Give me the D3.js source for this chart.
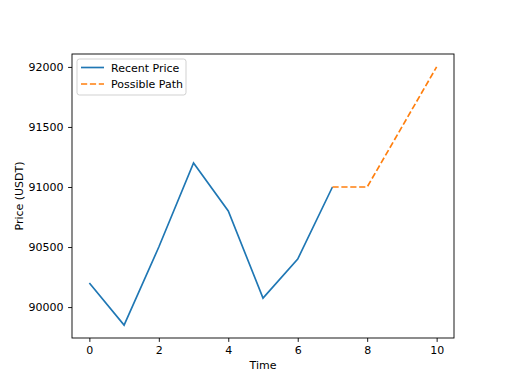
<!DOCTYPE html>
<html>
<head>
<meta charset="utf-8">
<script src="https://cdn.jsdelivr.net/npm/d3@7"></script>
<style>
body{margin:0;background:#fff;}
text{font-family:"DejaVu Sans",sans-serif;fill:#000;}
</style>
</head>
<body>
<div class="chart"></div>
<script>
// data
var recentTime=[0,1,2,3,4,5,6,7];
var recentPrice=[90200,89850,90500,91200,90800,90075,90400,91000];
var pathTime=[7,8,10];
var pathPrice=[91000,91000,92000];
var xTicks=[0,2,4,6,8,10];
var yTicks=[90000,90500,91000,91500,92000];

var margin={top:54, left:72, bottom:51, right:58};
var width=512-margin.left-margin.right;
var height=389-margin.top-margin.bottom;

var svg=d3.select(".chart").append("svg").attr("width",512).attr("height",389);
var g=svg.append("g").attr("transform","translate("+margin.left+","+margin.top+")");

var x=d3.scaleLinear().domain([-0.5,10.5]).range([0,width]);
var y=d3.scaleLinear().domain([89742.5,92107.5]).range([height,0]);

var recent=recentTime.map(function(t,i){return {t:t,p:recentPrice[i]};});
var path=pathTime.map(function(t,i){return {t:t,p:pathPrice[i]};});

var line=d3.line().x(function(d){return x(d.t);}).y(function(d){return y(d.p);});

g.append("path").datum(recent).attr("d",line)
  .attr("fill","none").attr("stroke","#1f77b4").attr("stroke-width",1.67);
g.append("path").datum(path).attr("d",line)
  .attr("fill","none").attr("stroke","#ff7f0e").attr("stroke-width",1.67)
  .attr("stroke-dasharray","6.2,2.7");

//X axis
var xAxis=g.append("g").attr("transform","translate(0,"+height+")")
  .call(d3.axisBottom(x).tickValues(xTicks).tickSize(3.9).tickPadding(4.5).tickFormat(d3.format("d")));
//Y axis
var yAxis=g.append("g")
  .call(d3.axisLeft(y).tickValues(yTicks).tickSize(3.9).tickPadding(4.5).tickFormat(d3.format("d")));
[xAxis,yAxis].forEach(function(a){
  a.select(".domain").remove();
  a.selectAll("text").attr("font-size","11px").attr("font-family","DejaVu Sans").attr("fill","#000");
  a.selectAll("line").attr("stroke","#000").attr("stroke-width",0.9);
});

// frame
g.append("rect").attr("width",width).attr("height",height)
  .attr("fill","none").attr("stroke","#000").attr("stroke-width",0.9);

//labels
g.append("text").attr("x",width/2).attr("y",height+31).attr("text-anchor","middle")
  .attr("font-size","11px").text("Time");
g.append("text").attr("transform","rotate(-90)").attr("x",-height/2).attr("y",-49)
  .attr("text-anchor","middle").attr("font-size","11px").text("Price (USDT)");

// legend
var legend=g.append("g").attr("transform","translate(5,5)");
legend.append("rect").attr("width",109).attr("height",36).attr("rx",2.5)
  .attr("fill","#fff").attr("fill-opacity",0.8).attr("stroke","#ccc").attr("stroke-width",0.9);
var items=[{name:"Recent Price",color:"#1f77b4",dash:null},{name:"Possible Path",color:"#ff7f0e",dash:"6.2,2.7"}];
items.forEach(function(it,i){
  var yy=8.5+i*16.5;
  legend.append("line").attr("x1",4).attr("x2",27).attr("y1",yy).attr("y2",yy)
    .attr("stroke",it.color).attr("stroke-width",1.67).attr("stroke-dasharray",it.dash);
  legend.append("text").attr("x",34).attr("y",yy+4).attr("font-size","11px").text(it.name);
});
</script>
</body>
</html>
